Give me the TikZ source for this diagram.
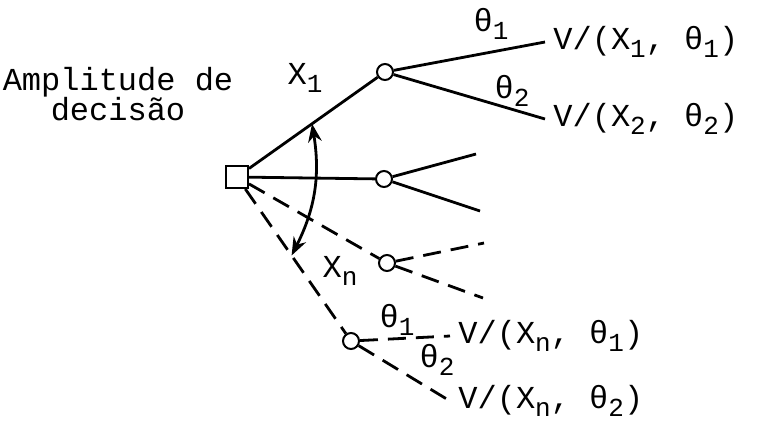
\documentclass[tikz,border=0pt]{standalone}
\usepackage{fontspec}
\setmainfont{Liberation Mono}
\usetikzlibrary{arrows.meta, positioning}
\newcommand{\indice}[1]{\raisebox{-0.45ex}{\fontsize{13}{13}\selectfont #1}}
\tikzset{
  noDecisao/.style={draw, line width=1pt, fill=white,
    minimum size=11pt, inner sep=0pt},
  noAcaso/.style={circle, draw, line width=1pt, fill=white,
    minimum size=8pt, inner sep=0pt},
  ramo/.style={line width=1.4pt},
  ramoTracejado/.style={ramo, dash pattern=on 9pt off 5pt},
  rotulo/.style={font=\fontsize{16}{15}\selectfont, inner sep=1pt},
  valor/.style={rotulo, anchor=west, inner sep=4pt},
  seta/.style={{Stealth[length=3.2mm, width=2.4mm]}-{Stealth[length=3.2mm, width=2.4mm]},
    line width=1.4pt},
}

\begin{document}
\begin{tikzpicture}[x=0.5pt, y=-0.5pt]
    \useasboundingbox (0,0) rectangle (761,420);
    % nos
    \node[noDecisao] (q) at (237,177) {};
    \node[noAcaso] (c1) at (385,72) {};
    \node[noAcaso] (c2) at (384,179) {};
    \node[noAcaso] (c3) at (387,263) {};
    \node[noAcaso] (c4) at (351,341) {};
    % rotulos
    \node[rotulo, align=center] (amp) at (118,94) {Amplitude de\\decisão};
    \node[rotulo] (x1) at (305,78) {X\indice{1}};
    \node[rotulo] (xn) at (340,271) {X\indice{n}};
    \node[valor] (v11) at (545,42) {V/(X\indice{1}, θ\indice{1})};
    \node[valor] (v22) at (545,119) {V/(X\indice{2}, θ\indice{2})};
    \node[valor] (vn1) at (450,336) {V/(X\indice{n}, θ\indice{1})};
    \node[valor] (vn2) at (450,401) {V/(X\indice{n}, θ\indice{2})};
    \node[rotulo] (th1) at (491,24) {θ\indice{1}};
    \node[rotulo] (th2) at (512,91) {θ\indice{2}};
    \node[rotulo] (thn1) at (397,320) {θ\indice{1}};
    \node[rotulo] (thn2) at (437,360) {θ\indice{2}};
    \coordinate (m1) at (476,154);
    \coordinate (m2) at (480,211);
    \coordinate (t1) at (484,243);
    \coordinate (t2) at (483,298);
    % ramos
    \draw[ramo] (q) -- (c1);
    \draw[ramo] (q) -- (c2);
    \draw[ramoTracejado] (q) -- (c3);
    \draw[ramoTracejado] (q) -- (c4);
    \draw[ramo] (c1) -- (v11.west);
    \draw[ramo] (c1) -- (v22.west);
    \draw[ramo] (c2) -- (m1);
    \draw[ramo] (c2) -- (m2);
    \draw[ramoTracejado] (c3) -- (t1);
    \draw[ramoTracejado] (c3) -- (t2);
    \draw[ramoTracejado] (c4) -- (vn1.west);
    \draw[ramoTracejado] (c4) -- (vn2.west);
    % amplitude
    \path (q) -- (c1) coordinate[pos=0.49] (a1);
    \path (q) -- (c4) coordinate[pos=0.46] (a2);
    \draw[seta] (a1) to[bend left=18] (a2);
  \end{tikzpicture}
\end{document}
